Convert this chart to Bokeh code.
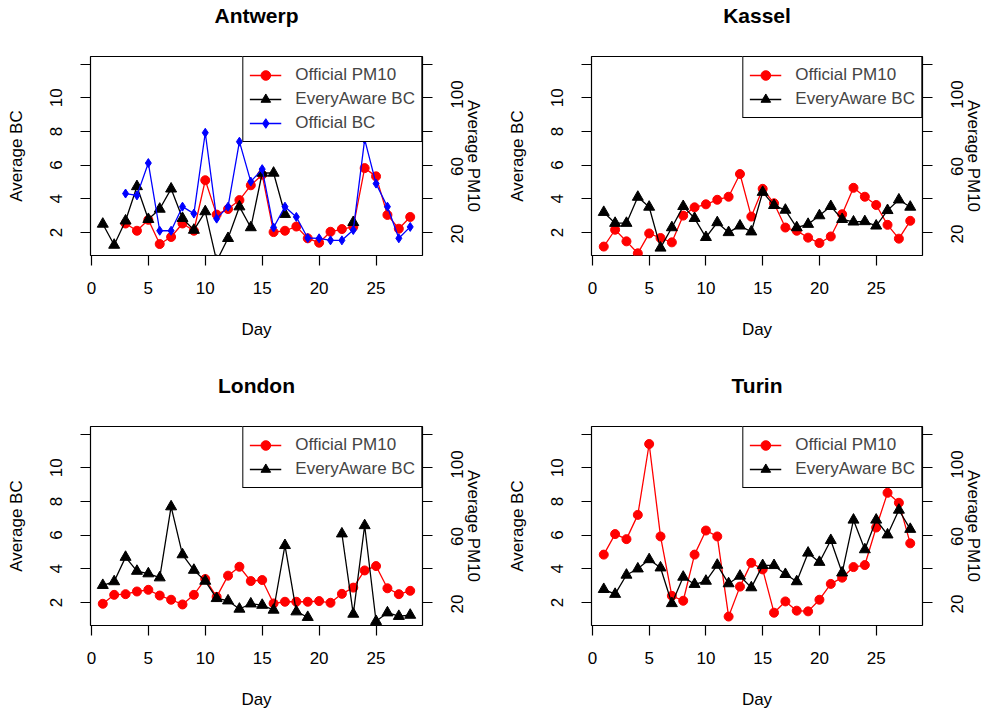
import math
import numpy as np
from bokeh.plotting import figure
from bokeh.models import Range1d, LinearAxis, FixedTicker, Legend, LegendItem, ColumnDataSource
from bokeh.layouts import gridplot
from bokeh.embed import file_html
from bokeh.resources import INLINE

N = np.nan
days = list(range(1, 29))

# PM10 in ug/m3 (right axis), BC (left axis)
antwerp_pm10 = [N, N, 25.3, 21.0, 27.5, 13.1, 17.3, 25.3, 21.0, 51.0, 30.6, 33.9, 39.2, 48.0,
                54.3, 20.2, 21.0, 23.5, 16.5, 13.9, 20.4, 22.0, 23.3, 58.2, 53.3, 30.4, 22.2, 29.2]
antwerp_ea_bc = [2.5, 1.25, 2.69, 4.73, 2.78, 3.39, 4.59, 2.84, 2.14, 3.24, 0.3, 1.65, 3.53, 2.29,
                 5.53, 5.53, 3.08, N, N, N, N, N, 2.6, N, N, N, N, N]
antwerp_off_bc = [N, N, 4.31, 4.2, 6.12, 2.1, 2.1, 3.53, 3.12, 7.92, 2.82, 3.53, 7.39, 5.02,
                  5.76, 2.29, 3.53, 2.92, 1.67, 1.65, 1.53, 1.53, 2.14, 7.53, 4.9, 3.53, 1.65, 2.33]

kassel_pm10 = [11.6, 21.6, 14.7, 7.6, 19.4, 16.7, 14.1, 30.0, 34.9, 36.7, 39.4, 41.2, 54.7, 29.4,
               45.9, 37.3, 22.9, 21.0, 16.9, 13.7, 17.6, 30.8, 46.5, 41.2, 36.3, 24.5, 16.3, 26.9]
kassel_ea_bc = [3.2, 2.55, 2.55, 4.1, 3.51, 1.08, 2.29, 3.55, 2.84, 1.71, 2.59, 2.0, 2.39, 2.04,
                4.39, 3.61, 3.33, 2.29, 2.49, 3.0, 3.55, 2.78, 2.63, 2.65, 2.39, 3.31, 3.94, 3.51]

london_pm10 = [19.2, 24.5, 24.9, 26.5, 27.5, 24.1, 21.6, 18.8, 24.5, 33.9, 23.3, 35.9, 41.2, 32.7,
               33.3, 19.4, 20.4, 20.4, 20.4, 20.8, 19.8, 25.1, 28.8, 39.0, 41.6, 28.4, 24.9, 26.9]
london_ea_bc = [3.02, 3.24, 4.69, 3.86, 3.71, 3.47, 7.69, 4.84, 3.92, 3.27, 2.24, 2.1, 1.61, 1.92,
                1.84, 1.55, 5.39, 1.45, 1.12, N, N, 6.08, 1.31, 6.57, 0.88, 1.39, 1.18, 1.25]

turin_pm10 = [48.4, 60.6, 57.6, 72.0, 114.1, 59.2, 23.9, 21.0, 48.4, 62.7, 59.2, 11.6, 29.4, 43.5,
              39.6, 13.9, 20.6, 15.1, 14.7, 21.6, 31.0, 34.7, 41.0, 42.2, 64.5, 85.1, 79.2, 55.1]
turin_ea_bc = [2.78, 2.49, 3.63, 4.0, 4.55, 4.06, 1.94, 3.51, 3.08, 3.27, 4.22, 3.12, 3.57, 2.88,
               4.2, 4.2, 3.67, 3.24, 4.94, 4.39, 5.69, 3.76, 6.9, 5.14, 6.9, 6.02, 7.49, 6.35]

x_ticks = [0, 5, 10, 15, 20, 25]
bc_ticks = [2, 4, 6, 8, 10, 12]
bc_tick_labels = {12: ""}
pm_ticks = [20, 40, 60, 80, 100, 120]
pm_labelled_ticks = [20, 60, 100]

FONT = "Liberation Sans"
FRAME_W, FRAME_H = 332, 201
BC_RANGE = (0.63, 12.45)
PM_RANGE = (6.3, 124.5)
# rotated (bottom-to-top) right tick labels are anchored at their start;
# a shifted label range moves them down by about half a label length
LAB_SHIFT = 6.5


def style_axis(ax):
    ax.axis_line_color = None
    ax.major_tick_out = 10
    ax.major_tick_in = 0
    ax.major_tick_line_color = "black"
    ax.major_tick_line_width = 1.2
    ax.minor_tick_line_color = None
    ax.major_label_text_font = FONT
    ax.major_label_text_font_size = "17px"
    ax.major_label_text_color = "black"
    ax.axis_label_text_font = FONT
    ax.axis_label_text_font_size = "17px"
    ax.axis_label_text_font_style = "normal"
    ax.axis_label_text_color = "black"


def panel(title, pm10, ea_bc, off_bc, width, height, left_border):
    p = figure(width=width, height=height,
               x_range=Range1d(-0.08, 29.08), y_range=Range1d(*BC_RANGE),
               output_backend="svg", toolbar_location=None,
               min_border_left=left_border, min_border_right=width - left_border - FRAME_W,
               min_border_top=54, min_border_bottom=height - 54 - FRAME_H,
               x_axis_label="Day", y_axis_label="Average BC")
    p.extra_y_ranges = {"pm": Range1d(*PM_RANGE),
                        "pm_lab": Range1d(PM_RANGE[0] + LAB_SHIFT, PM_RANGE[1] + LAB_SHIFT)}
    p.grid.visible = False
    p.outline_line_color = "black"
    p.outline_line_width = 1.2
    p.outline_line_alpha = 1.0
    p.background_fill_color = "white"
    p.border_fill_color = "white"

    xa = p.below[0]
    ya = p.left[0]

    style_axis(xa)
    xa.ticker = FixedTicker(ticks=x_ticks)
    xa.major_label_standoff = 16
    xa.axis_label_standoff = 23

    style_axis(ya)
    ya.ticker = FixedTicker(ticks=bc_ticks)
    ya.major_label_overrides = bc_tick_labels
    ya.major_label_orientation = "vertical"
    ya.major_label_standoff = 18
    ya.axis_label_standoff = 22

    # panel title, drawn as the label of a tick-less top axis
    ta = LinearAxis(ticker=FixedTicker(ticks=[]), axis_label=title)
    style_axis(ta)
    ta.major_tick_out = 0
    ta.major_tick_line_color = None
    ta.major_label_standoff = 0
    ta.axis_label_text_font_size = "21px"
    ta.axis_label_text_font_style = "bold"
    ta.axis_label_standoff = 30
    p.add_layout(ta, "above")

    # right axis: tick marks
    r1 = LinearAxis(y_range_name="pm", ticker=FixedTicker(ticks=pm_ticks))
    style_axis(r1)
    r1.major_label_overrides = {t: "" for t in pm_ticks}
    r1.major_label_standoff = 0
    p.add_layout(r1, "right")
    # right axis: labels (bottom-to-top) and title
    r2 = LinearAxis(y_range_name="pm_lab", ticker=FixedTicker(ticks=pm_labelled_ticks),
                    axis_label="Average PM10")
    style_axis(r2)
    r2.major_tick_out = 0
    r2.major_tick_line_color = None
    r2.major_label_orientation = math.pi / 2
    r2.major_label_standoff = 25
    r2.axis_label_standoff = -9
    p.add_layout(r2, "right")

    src = ColumnDataSource(dict(day=days, pm=np.array(pm10, dtype=float),
                                ea=np.array(ea_bc, dtype=float)))
    items = []
    l1 = p.line("day", "pm", source=src, y_range_name="pm", line_color="#FF0000", line_width=1.3)
    m1 = p.scatter("day", "pm", source=src, y_range_name="pm", marker="circle", size=9,
                   fill_color="#FF0000", line_color="#FF0000")
    items.append(LegendItem(label="Official PM10", renderers=[l1, m1]))
    l2 = p.line("day", "ea", source=src, line_color="black", line_width=1.3)
    m2 = p.scatter("day", "ea", source=src, marker="triangle", size=11,
                   fill_color="black", line_color="black")
    items.append(LegendItem(label="EveryAware BC", renderers=[l2, m2]))
    if off_bc is not None:
        src.data["off"] = np.array(off_bc, dtype=float)
        l3 = p.line("day", "off", source=src, line_color="#0000FF", line_width=1.3)
        m3 = p.scatter("day", "off", source=src, marker="diamond", size=9,
                       fill_color="#0000FF", line_color="#0000FF")
        items.append(LegendItem(label="Official BC", renderers=[l3, m3]))

    leg = Legend(items=items, location="top_right", margin=0, padding=6, spacing=0,
                 glyph_width=32, glyph_height=24, label_height=24, label_standoff=14,
                 label_text_font=FONT, label_text_font_size="17px",
                 border_line_color="black", border_line_width=1.2, border_line_alpha=1.0,
                 background_fill_color="white", background_fill_alpha=1.0)
    p.add_layout(leg)
    return p


p1 = panel("Antwerp", antwerp_pm10, antwerp_ea_bc, antwerp_off_bc, 500, 370, 90)
p2 = panel("Kassel", kassel_pm10, kassel_ea_bc, None, 485, 370, 91)
p3 = panel("London", london_pm10, london_ea_bc, None, 500, 343, 90)
p4 = panel("Turin", turin_pm10, turin_ea_bc, None, 485, 343, 91)

grid = gridplot([[p1, p2], [p3, p4]], toolbar_location=None)
open("out.html", "w").write(file_html(grid, INLINE))
